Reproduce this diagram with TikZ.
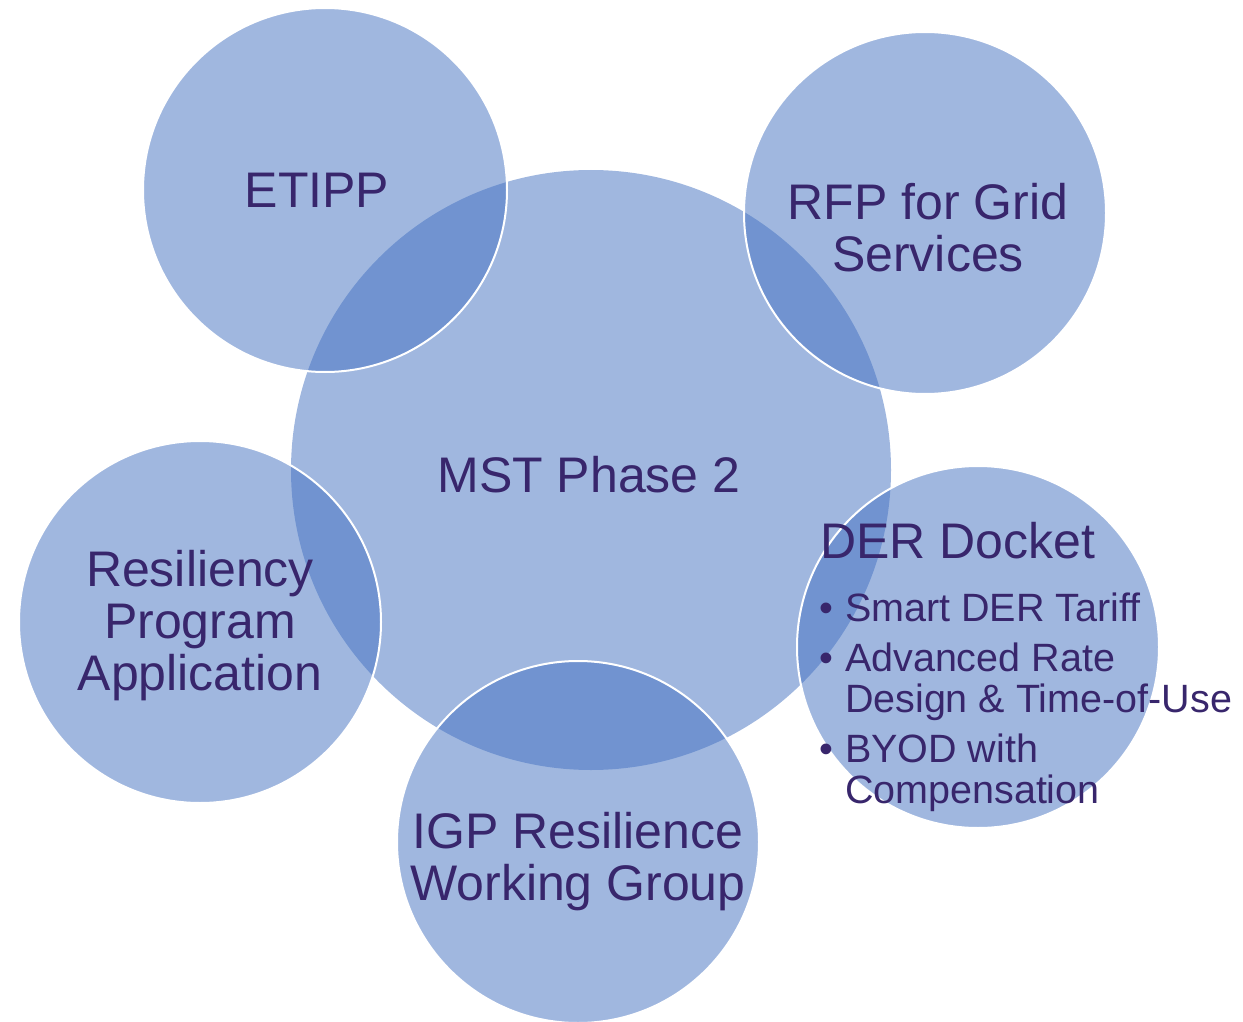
\documentclass[tikz,border=0pt]{standalone}
\usepackage{fontspec}
\setmainfont{Liberation Sans}
\definecolor{bubblefill}{RGB}{66,112,192}
\definecolor{labeltext}{RGB}{56,38,108}
\tikzset{
  bubble/.style={circle, fill=bubblefill, fill opacity=0.5, inner sep=0pt},
  ring/.style={bubble, draw=white, draw opacity=1, line width=2pt},
  biglabel/.style={text=labeltext, align=center, inner sep=0pt, font=\fontsize{50}{52}\selectfont},
  smalllabel/.style={text=labeltext, inner sep=0pt, font=\fontsize{39.5}{40}\selectfont}
}

\begin{document}
\begin{tikzpicture}[x=1pt,y=-1pt]
	\useasboundingbox (0,0) rectangle (1243,1022);
	% centre and satellites
	\node[bubble, minimum size=600] (mst) at (591,470) {};
	\node[ring, minimum size=364] (etipp) at (325,190) {};
	\node[ring, minimum size=362] (rfp) at (925,213) {};
	\node[ring, minimum size=362] (der) at (978,647) {};
	\node[ring, minimum size=362] (igp) at (578,842) {};
	\node[ring, minimum size=362] (resil) at (200,622) {};
	% labels
	\node[biglabel] (mstlabel) at (589,475) {MST Phase 2};
	\node[biglabel] (etipplabel) at (317,190) {ETIPP};
	\node[biglabel] (rfplabel) at (928,228) {RFP for Grid\\Services};
	\node[biglabel] (resillabel) at (200,626) {Resiliency\\Program\\Application};
	\node[biglabel] (igplabel) at (578,862) {IGP Resilience\\Working Group};
	\node[biglabel, anchor=base west] (dertitle) at (820,558) {DER Docket};
	\node[smalllabel, anchor=base west] (derlist) at (819,621) {\begin{tabular}[t]{@{}l@{\hspace{12pt}}l@{}}
		\textbullet & Smart DER Tariff\\[10pt]
		\textbullet & Advanced Rate\\
		 & Design \& Time-of-Use\\[10pt]
		\textbullet & BYOD with\\
		 & Compensation
	\end{tabular}};
\end{tikzpicture}
\end{document}
